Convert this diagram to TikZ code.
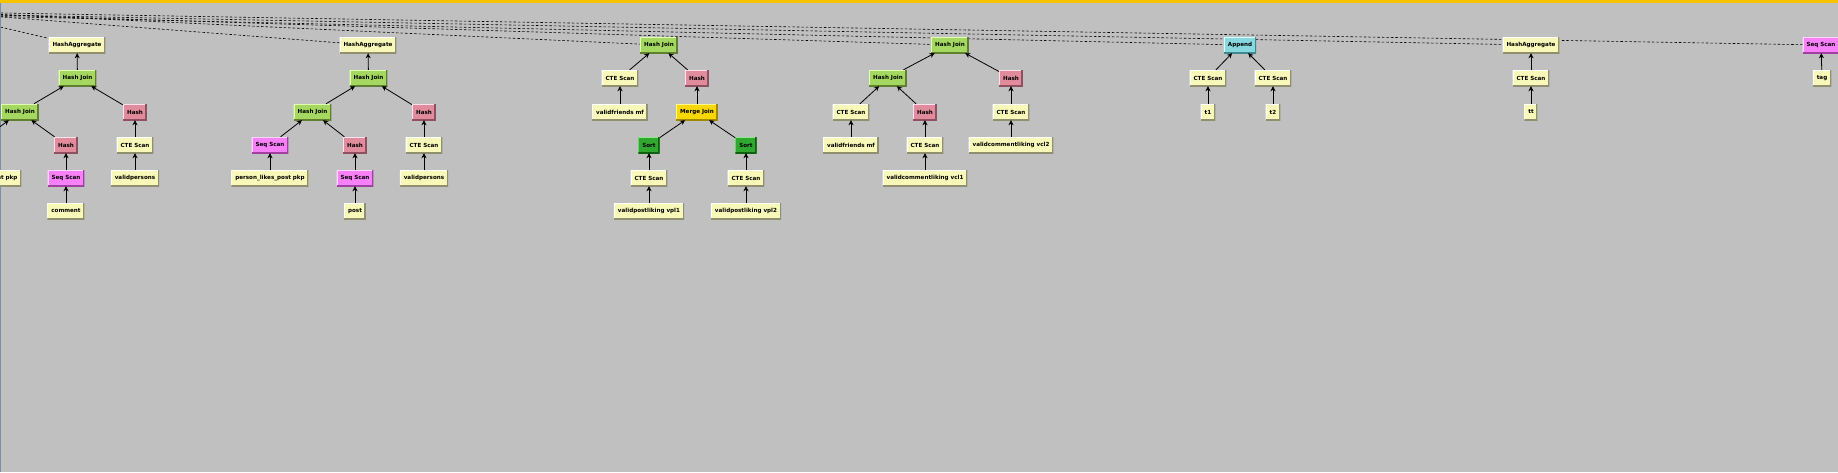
\documentclass[tikz,border=0pt]{standalone}
\usepackage{fontspec}
\setmainfont{DejaVu Sans}
\usetikzlibrary{arrows.meta}
\definecolor{bgc}{HTML}{C0C0C0}
\definecolor{barc}{HTML}{F8C400}
\definecolor{edgec}{HTML}{7890A8}
\definecolor{cyel}{HTML}{F8F8B8}
\definecolor{dyel}{HTML}{909070}
\definecolor{cgrn}{HTML}{A4D860}
\definecolor{lgrn}{HTML}{E0FFB0}
\definecolor{dgrn}{HTML}{608030}
\definecolor{cpnk}{HTML}{E08C9C}
\definecolor{lpnk}{HTML}{FFE0EC}
\definecolor{dpnk}{HTML}{905060}
\definecolor{cmag}{HTML}{F880F8}
\definecolor{lmag}{HTML}{FFD8FF}
\definecolor{dmag}{HTML}{A040A0}
\definecolor{cgld}{HTML}{F8D800}
\definecolor{lgld}{HTML}{FFF890}
\definecolor{dgld}{HTML}{A08800}
\definecolor{csrt}{HTML}{30A830}
\definecolor{lsrt}{HTML}{90E890}
\definecolor{dsrt}{HTML}{106010}
\definecolor{ccyn}{HTML}{88D8E0}
\definecolor{lcyn}{HTML}{D8FFFF}
\definecolor{dcyn}{HTML}{408890}
\pgfdeclarelayer{bglayer}
\pgfsetlayers{bglayer,main}
\tikzset{
  pbox/.style n args={3}{draw=none, fill=#1, minimum height=16pt, inner xsep=4pt, inner ysep=0pt,
    font=\fontsize{5.6}{6}\selectfont\bfseries, text=black,
    path picture={
      \draw[line width=2pt,#2] (path picture bounding box.south west) |- (path picture bounding box.north east);
      \draw[line width=3pt,#3] (path picture bounding box.south west) -| (path picture bounding box.north east);
    }},
  yel/.style={pbox={cyel}{white}{dyel}},
  grn/.style={pbox={cgrn}{lgrn}{dgrn}},
  pnk/.style={pbox={cpnk}{lpnk}{dpnk}},
  mag/.style={pbox={cmag}{lmag}{dmag}},
  gld/.style={pbox={cgld}{lgld}{dgld}},
  srt/.style={pbox={csrt}{lsrt}{dsrt}},
  cyn/.style={pbox={ccyn}{lcyn}{dcyn}},
  arr/.style={-{Stealth[length=5pt,width=5pt,inset=1.5pt]}, line width=0.8pt, black},
  dl/.style={dash pattern=on 2.5pt off 2pt, line width=0.6pt, black},
}
\begin{document}
\begin{tikzpicture}[x=1pt,y=-1pt]
\useasboundingbox (0,0) rectangle (1838,472);
\clip (0,0) rectangle (1838,472);
\begin{pgfonlayer}{bglayer}
\fill[bgc] (0,0) rectangle (1838,472);
\end{pgfonlayer}
% tree 1
\node[yel] (A1) at (77,45) {HashAggregate};
\node[grn] (B1) at (77.5,78) {Hash Join};
\node[grn] (C1) at (20,112) {Hash Join};
\node[pnk] (D1) at (135,112) {Hash};
\node[mag] (E1) at (-25,145) {Seq Scan};
\node[pnk] (F1) at (66,145) {Hash};
\node[yel] (G1) at (135,145) {CTE Scan};
\node[yel] (H1) at (-25,178) {person\_likes\_comment pkp};
\node[mag] (I1) at (66,178) {Seq Scan};
\node[yel] (J1) at (135,178) {validpersons};
\node[yel] (K1) at (66,211) {comment};
\foreach \c/\p in {B1/A1,C1/B1,D1/B1,E1/C1,F1/C1,G1/D1,H1/E1,I1/F1,J1/G1,K1/I1}
  \draw[arr] (\c) -- (\p);
% tree 2
\node[yel] (A2) at (368,45) {HashAggregate};
\node[grn] (B2) at (368.5,78) {Hash Join};
\node[grn] (C2) at (312.5,112) {Hash Join};
\node[pnk] (D2) at (424,112) {Hash};
\node[mag] (E2) at (270,145) {Seq Scan};
\node[pnk] (F2) at (355,145) {Hash};
\node[yel] (G2) at (424,145) {CTE Scan};
\node[yel] (H2) at (270,178) {person\_likes\_post pkp};
\node[mag] (I2) at (355,178) {Seq Scan};
\node[yel] (J2) at (424,178) {validpersons};
\node[yel] (K2) at (355,211) {post};
\foreach \c/\p in {B2/A2,C2/B2,D2/B2,E2/C2,F2/C2,G2/D2,H2/E2,I2/F2,J2/G2,K2/I2}
  \draw[arr] (\c) -- (\p);
% tree 3
\node[grn] (A3) at (659,45) {Hash Join};
\node[yel] (B3) at (620,78) {CTE Scan};
\node[pnk] (C3) at (697,78) {Hash};
\node[yel] (D3) at (620,112) {validfriends mf};
\node[gld] (E3) at (697,112) {Merge Join};
\node[srt] (F3) at (649,145) {Sort};
\node[srt] (G3) at (746,145) {Sort};
\node[yel] (H3) at (649,178) {CTE Scan};
\node[yel] (I3) at (746,178) {CTE Scan};
\node[yel] (J3) at (649,211) {validpostliking vpl1};
\node[yel] (K3) at (746,211) {validpostliking vpl2};
\foreach \c/\p in {B3/A3,C3/A3,D3/B3,E3/C3,F3/E3,G3/E3,H3/F3,I3/G3,J3/H3,K3/I3}
  \draw[arr] (\c) -- (\p);
% tree 4
\node[grn] (A4) at (950,45) {Hash Join};
\node[grn] (B4) at (888,78) {Hash Join};
\node[pnk] (C4) at (1011,78) {Hash};
\node[yel] (D4) at (851,112) {CTE Scan};
\node[pnk] (E4) at (925,112) {Hash};
\node[yel] (F4) at (1011,112) {CTE Scan};
\node[yel] (G4) at (851,145) {validfriends mf};
\node[yel] (H4) at (925,145) {CTE Scan};
\node[yel] (I4) at (1011,145) {validcommentliking vcl2};
\node[yel] (J4) at (925,178) {validcommentliking vcl1};
\foreach \c/\p in {B4/A4,C4/A4,D4/B4,E4/B4,F4/C4,G4/D4,H4/E4,I4/F4,J4/H4}
  \draw[arr] (\c) -- (\p);
% tree 5
\node[cyn] (A5) at (1240,45) {Append};
\node[yel] (B5) at (1208,78) {CTE Scan};
\node[yel] (C5) at (1273,78) {CTE Scan};
\node[yel] (D5) at (1208,112) {t1};
\node[yel] (E5) at (1273,112) {t2};
\foreach \c/\p in {B5/A5,C5/A5,D5/B5,E5/C5}
  \draw[arr] (\c) -- (\p);
% tree 6
\node[yel] (A6) at (1531,45) {HashAggregate};
\node[yel] (B6) at (1531,78) {CTE Scan};
\node[yel] (C6) at (1531,112) {tt};
\draw[arr] (B6) -- (A6);
\draw[arr] (C6) -- (B6);
% tree 7
\node[mag] (A7) at (1821,45) {Seq Scan};
\node[yel] (B7) at (1822,78) {tag};
\draw[arr] (B7) -- (A7);
% dashed links
\coordinate (s1) at (-4,26);
\coordinate (s2) at (-4,16.5);
\coordinate (s3) at (-4,14.2);
\coordinate (s4) at (-4,15.0);
\coordinate (s5) at (-4,16.5);
\coordinate (s6) at (-4,14.9);
\coordinate (s7) at (-4,12.9);
\begin{pgfonlayer}{bglayer}
\foreach \s/\n in {s1/A1,s2/A2,s3/A3,s4/A4,s5/A5,s6/A6,s7/A7}
  \draw[dl] (\s) -- (\n.center);
\fill[barc] (0,0) rectangle (1838,3.3);
\fill[edgec] (0,3.3) rectangle (1.3,472);
\end{pgfonlayer}
\end{tikzpicture}
\end{document}
